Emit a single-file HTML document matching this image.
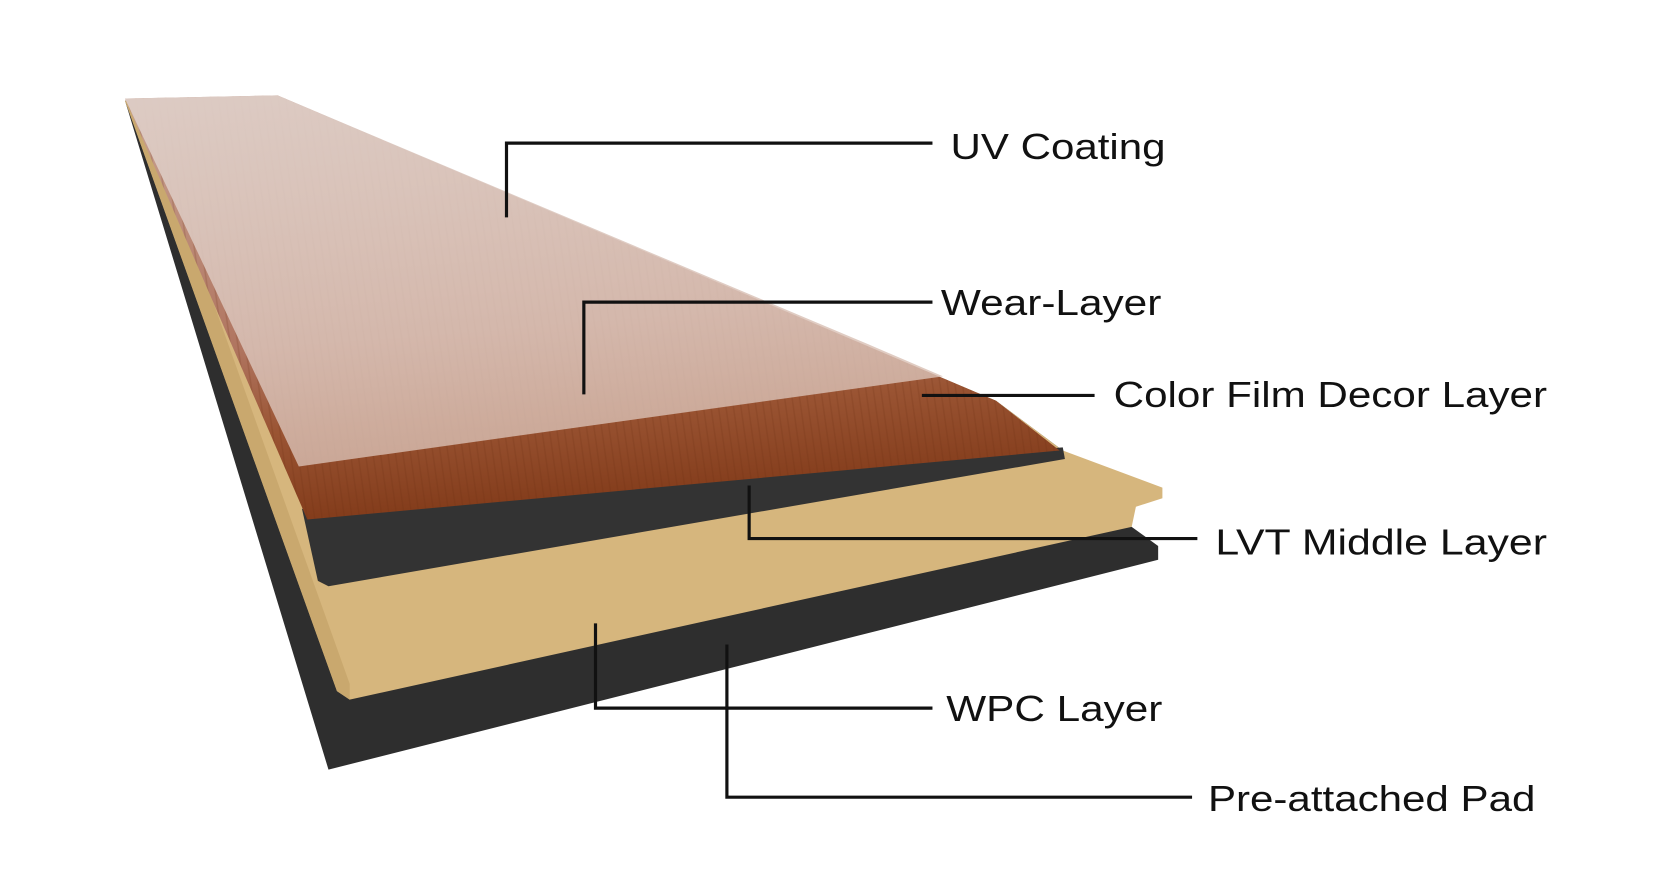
<!DOCTYPE html>
<html><head><meta charset="utf-8"><style>
html,body{margin:0;padding:0;background:#fff;width:1653px;height:882px;overflow:hidden}
svg{display:block}
text{font-family:"Liberation Sans",Arial,sans-serif;fill:#111}
</style></head><body>
<svg width="1653" height="882" viewBox="0 0 1560 832" preserveAspectRatio="none" xmlns="http://www.w3.org/2000/svg">
<defs>
<linearGradient id="wood" x1="0" y1="0" x2="0.15" y2="1">
<stop offset="0" stop-color="#c9a393"/>
<stop offset="0.6" stop-color="#b07560"/>
<stop offset="0.8" stop-color="#9a5433"/>
<stop offset="1" stop-color="#843d1c"/>
</linearGradient>
<linearGradient id="wear" x1="0" y1="0" x2="0.2" y2="1">
<stop offset="0" stop-color="#ddccc5" stop-opacity="0.97"/>
<stop offset="1" stop-color="#d9bfb3" stop-opacity="0.8"/>
</linearGradient>
<pattern id="grain" width="7" height="40" patternUnits="userSpaceOnUse" patternTransform="rotate(-8)">
<line x1="2" y1="0" x2="2" y2="40" stroke="#6a2e12" stroke-opacity="0.18" stroke-width="1.5"/>
</pattern>
</defs>
<!-- pad -->
<polygon points="118,95 262,92 940,378 1003,425 1068,497 1093,515 1093,528 310,726" fill="#2e2e2e"/>
<!-- WPC -->
<polygon points="118,95 262,92 940,378 1003,425 1097,460 1097,470 1072,478 1068,497 330,660 318,652" fill="#d6b67d"/>
<polygon points="118,95 135,100 330,645 330,660 318,652" fill="#c9a86e"/>
<!-- LVT -->
<polygon points="285,480 1003,422 1005,433 310,553 300,548" fill="#333"/>
<!-- decor / top plank -->
<polygon points="118,93 262,90 940,378 1000,425 290,490" fill="url(#wood)"/>
<polygon points="118,93 262,90 940,378 1000,425 290,490" fill="url(#grain)"/>
<polygon points="118,93 262,90 820,325 890,355 282,440" fill="url(#wear)"/>
<!-- connectors -->
<g stroke="#111" stroke-width="3" fill="none">
<polyline points="478,205 478,135 880,135"/>
<polyline points="551,372 551,285 880,285"/>
<polyline points="870,373 1033,373"/>
<polyline points="707,458 707,508 1130,508"/>
<polyline points="562,588 562,668 880,668"/>
<polyline points="686,608 686,752 1125,752"/>
</g>
<g font-size="34">
<text x="897" y="150" textLength="203" lengthAdjust="spacingAndGlyphs">UV Coating</text>
<text x="888" y="297" textLength="208" lengthAdjust="spacingAndGlyphs">Wear-Layer</text>
<text x="1051" y="384" textLength="409" lengthAdjust="spacingAndGlyphs">Color Film Decor Layer</text>
<text x="1147" y="523" textLength="313" lengthAdjust="spacingAndGlyphs">LVT Middle Layer</text>
<text x="893" y="680" textLength="204" lengthAdjust="spacingAndGlyphs">WPC Layer</text>
<text x="1140" y="765" textLength="309" lengthAdjust="spacingAndGlyphs">Pre-attached Pad</text>
</g>
</svg>
</body></html>
